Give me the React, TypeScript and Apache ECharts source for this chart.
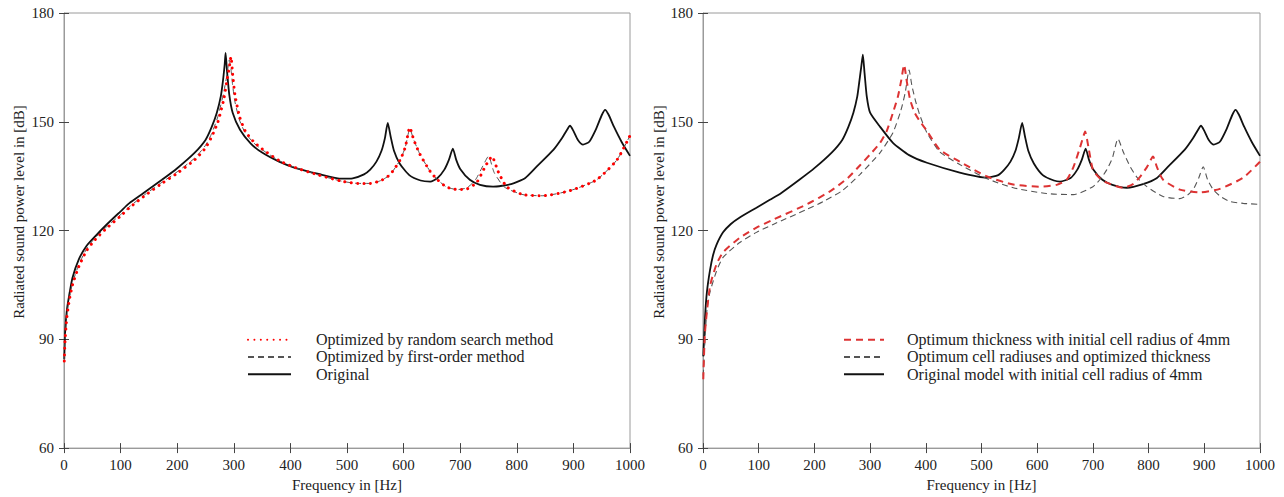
import React, { useEffect, useRef } from "react";
import * as echarts from "echarts";

// ---------- Data ----------
const xTicks = [0, 100, 200, 300, 400, 500, 600, 700, 800, 900, 1000];
const yTicks = [60, 90, 120, 150, 180];

// Left panel
const leftOrigF = [0.5, 2, 5, 9, 15, 26, 40, 55, 75, 100, 115, 140, 173, 200, 231, 250, 261, 270, 277, 281, 284, 285.5, 288, 292, 298, 311, 330, 350, 380, 408, 450, 491, 510, 530, 541, 552, 561, 567, 572, 577, 583, 593, 610, 630, 647, 660, 672, 680, 687, 693, 700, 717, 735, 758, 790, 815, 835, 865, 880, 888, 894, 900, 908, 917, 928, 940, 950, 956, 962, 972, 985, 1000];
const leftOrigV = [84.5, 92, 98, 102, 107, 112, 115.8, 118.4, 121.6, 125.3, 127.5, 130.3, 134, 137.2, 141.5, 145, 148.6, 152.5, 157, 161.5, 166, 169, 164, 157.5, 152.5, 147.8, 144, 141.5, 139, 137.3, 135.6, 134.3, 134.4, 135.5, 136.8, 139, 142, 145.5, 149.7, 146, 142, 138.5, 135.3, 133.8, 133.5, 134.5, 136.8, 139.5, 142.6, 139.5, 137, 134, 132.6, 132.1, 132.8, 134.5, 137.6, 142.3, 145.5, 147.6, 148.9, 147.5, 145, 143.7, 144.5, 148, 151.8, 153.3, 152, 148.5, 144.5, 140.6];

const leftRandomF = [0.5, 2, 5, 9, 15, 26, 40, 55, 75, 100, 115, 140, 173, 200, 231, 250, 261, 272, 282, 288, 292, 295, 298, 302, 310, 320, 335, 350, 380, 408, 450, 491, 520, 541, 560, 576, 594, 603, 611, 618, 629, 647, 660, 676, 695, 712, 729, 744, 756, 767, 782, 811, 846, 894, 941, 977, 1000];
const leftRandomV = [84, 90, 96, 100.5, 105, 110, 114.5, 117.5, 120.6, 124, 126.2, 129.3, 133, 135.8, 139.5, 142.8, 145.9, 150, 156, 161.5, 165, 167.9, 163, 157.5, 151.5, 147.5, 144.5, 142.5, 139.3, 137.4, 135.3, 133.6, 133, 133, 133.8, 135.4, 139.5, 143, 148.4, 145, 141, 136.3, 134, 132, 131.3, 131.5, 133.2, 137.6, 140.4, 136.3, 132.1, 129.9, 129.6, 131, 134, 139.5, 146.2];

const leftFirstF = [0.5, 2, 5, 9, 15, 26, 40, 55, 75, 100, 115, 140, 173, 200, 231, 250, 261, 272, 282, 288, 292, 295, 298, 302, 310, 320, 335, 350, 380, 408, 450, 491, 520, 541, 560, 576, 594, 603, 611, 618, 629, 647, 660, 676, 695, 712, 727, 740, 750, 760, 778, 811, 846, 894, 941, 977, 1000];
const leftFirstV = [84.5, 90.5, 96.5, 101, 105.5, 110.5, 115, 118, 121, 124.4, 126.5, 129.6, 133.3, 136.2, 140, 143.5, 146.8, 151.5, 158, 163, 167, 164.5, 160, 155.5, 150.5, 147, 144.2, 142.3, 139.3, 137.4, 135.3, 133.6, 133, 133, 133.8, 135.4, 139.5, 143, 148, 145, 141, 136.3, 134, 132, 131.3, 131.8, 134, 137.8, 140.5, 136, 132, 129.9, 129.6, 131, 134, 139.5, 146.2];

// Right panel
const rightOrigF = [0.5, 3.6, 7, 12.5, 18, 24, 36, 50, 66, 96, 120, 140, 173, 200, 231, 250, 261, 270, 277, 281, 284, 287, 290, 294, 300, 318, 341, 370, 402, 461, 510, 530, 541, 552, 561, 567, 573, 578, 584, 594, 610, 630, 641, 660, 672, 680, 687, 693, 700, 717, 735, 761, 790, 815, 835, 865, 880, 888, 894, 900, 908, 917, 928, 940, 950, 956, 962, 972, 985, 1000];
const rightOrigV = [85.3, 96, 103, 109, 113.2, 116, 119.5, 121.8, 123.6, 126.3, 128.5, 130.3, 134, 137.2, 141.5, 145, 148.6, 152.5, 157, 161.5, 165, 168.5, 163.5, 157, 152.5, 148.6, 144.2, 140.8, 138.7, 136, 134.6, 135.3, 136.8, 139, 142, 145.5, 149.7, 146, 142, 138.5, 135.3, 133.8, 133.5, 134.5, 136.8, 139.5, 142.6, 139.5, 137, 134, 132.6, 131.8, 132.8, 134.5, 137.6, 142.3, 145.5, 147.6, 148.9, 147.5, 145, 143.7, 144.5, 148, 151.8, 153.3, 152, 148.5, 144.5, 140.6];

const rightThickF = [0.5, 3.6, 12.5, 24, 36, 66, 96, 126, 186, 230, 260, 282, 300, 318, 330, 341, 350, 356, 361, 366, 372, 380, 390, 402, 425, 461, 510, 557, 605, 635, 653, 665, 675, 681, 686, 692, 700, 712, 725, 754, 772, 785, 797, 808, 815, 826, 856, 892, 928, 970, 1000];
const rightThickV = [79, 92, 104.6, 110.6, 114, 118, 120.8, 123, 127.2, 131, 134.5, 138, 141, 144.2, 147.5, 152.5, 157, 161.5, 165.7, 161, 156, 152.5, 150, 147.5, 142.3, 139, 134.9, 132.7, 132.1, 132.6, 134, 137.5, 142, 145, 147.3, 143, 136.8, 134.5, 133.2, 131.8, 132.8, 134.9, 137.5, 140.4, 137.5, 134, 131.3, 130.5, 131.5, 134.6, 139];

const rightRadiiF = [0.5, 3.6, 7, 12.5, 24, 36, 66, 96, 126, 186, 216, 250, 282, 318, 341, 355, 363, 370, 375, 382, 390, 402, 425, 461, 510, 557, 617, 665, 700, 715, 725, 735, 745, 755, 767, 780, 797, 826, 856, 870, 880, 890, 898, 906, 916, 930, 946, 970, 1000];
const rightRadiiV = [80, 90, 98, 103, 108.7, 112.6, 116.7, 119.5, 121.7, 125.8, 128, 131, 135.5, 141.5, 147, 153, 158, 164.3, 160, 155.5, 151.5, 147, 141.7, 138.2, 134.3, 131.8, 130.2, 129.9, 132.1, 134.5, 136.8, 140, 145.3, 141.5, 137.6, 134.5, 132.1, 129.4, 128.8, 129.8, 131.3, 134.5, 137.6, 134, 131.3, 129.3, 128, 127.5, 127.2];

const leftNames = ["Optimized by random search method", "Optimized by first-order method", "Original"];
const rightNames = [
  "Optimum thickness with initial cell radius of 4mm",
  "Optimum cell radiuses and optimized thickness",
  "Original model with initial cell radius of 4mm",
];
const xName = "Frequency in [Hz]";
const yName = "Radiated sound power level in [dB]";

const zip = (f: number[], v: number[]) => f.map((x, i) => [x, v[i]]);

const FONT = "'Liberation Serif', 'DejaVu Serif', serif";

export default function App() {
  const ref = useRef<HTMLDivElement>(null);

  useEffect(() => {
    if (!ref.current) return;
    const chart = echarts.init(ref.current, null, { renderer: "svg" });

    const grids = [
      { left: 64, top: 13, width: 566, height: 436, show: true, borderColor: "#9a9a9a", borderWidth: 1 },
      { left: 703, top: 13, width: 557, height: 436, show: true, borderColor: "#9a9a9a", borderWidth: 1 },
    ];

    const mainX = (gi: number) => ({
      type: "value",
      gridIndex: gi,
      min: xTicks[0],
      max: xTicks[xTicks.length - 1],
      interval: 100,
      name: xName,
      nameLocation: "middle",
      nameGap: 27,
      nameTextStyle: { fontFamily: FONT, fontSize: 15, color: "#222" },
      axisLine: { show: true, lineStyle: { color: "#9a9a9a", width: 1 } },
      axisTick: { show: true, length: 5, lineStyle: { color: "#444", width: 1 } },
      axisLabel: { fontFamily: FONT, fontSize: 15, color: "#222", margin: 9, formatter: (v: number) => String(v) },
      splitLine: { show: false },
    });
    const innerX = (gi: number) => ({
      type: "value",
      gridIndex: gi,
      position: "bottom",
      min: xTicks[0],
      max: xTicks[xTicks.length - 1],
      interval: 100,
      axisLine: { show: false },
      axisTick: { show: true, inside: true, length: 5, lineStyle: { color: "#444", width: 1 } },
      axisLabel: { show: false },
      splitLine: { show: false },
    });
    const mainY = (gi: number) => ({
      type: "value",
      gridIndex: gi,
      min: yTicks[0],
      max: yTicks[yTicks.length - 1],
      interval: 30,
      axisLine: { show: true, lineStyle: { color: "#9a9a9a", width: 1 } },
      axisTick: { show: true, length: 5, lineStyle: { color: "#444", width: 1 } },
      axisLabel: { fontFamily: FONT, fontSize: 15, color: "#222", margin: 10 },
      splitLine: { show: false },
    });
    const innerY = (gi: number) => ({
      type: "value",
      gridIndex: gi,
      position: "left",
      min: yTicks[0],
      max: yTicks[yTicks.length - 1],
      interval: 30,
      axisLine: { show: false },
      axisTick: { show: true, inside: true, length: 5, lineStyle: { color: "#444", width: 1 } },
      axisLabel: { show: false },
      splitLine: { show: false },
    });

    const line = (name: string, gi: number, data: number[][], lineStyle: any, z: number) => ({
      type: "line",
      name,
      xAxisIndex: gi,
      yAxisIndex: gi,
      data,
      symbol: "none",
      showSymbol: false,
      smooth: 0.2,
      z,
      lineStyle,
      itemStyle: { color: lineStyle.color },
    });

    const legendBase = {
      orient: "vertical",
      padding: 0,
      itemWidth: 43,
      itemHeight: 10,
      itemGap: 0,
      itemStyle: { opacity: 0 },
      textStyle: { fontFamily: FONT, fontSize: 16, lineHeight: 17.3, color: "#222", padding: [0, 0, 0, 20] },
    };

    const yNameText = (x: number) => ({
      type: "text",
      x,
      y: 212,
      rotation: Math.PI / 2,
      style: {
        text: yName,
        fontFamily: FONT,
        fontSize: 15,
        fill: "#222",
        align: "center",
        verticalAlign: "middle",
      },
    });

    chart.setOption({
      animation: false,
      backgroundColor: "#fff",
      grid: grids,
      xAxis: [mainX(0), mainX(1), innerX(0), innerX(1)],
      yAxis: [mainY(0), mainY(1), innerY(0), innerY(1)],
      legend: [
        { ...legendBase, data: leftNames, left: 247, top: 331 },
        { ...legendBase, itemWidth: 40, data: rightNames, left: 843, top: 331, textStyle: { ...legendBase.textStyle, padding: [0, 0, 0, 18] } },
      ],
      graphic: [yNameText(19), yNameText(659)],
      series: [
        line(leftNames[2], 0, zip(leftOrigF, leftOrigV), { color: "#111", width: 1.8, type: "solid" }, 3),
        line(leftNames[1], 0, zip(leftFirstF, leftFirstV), { color: "#555", width: 1, type: [6, 4] }, 4),
        line(leftNames[0], 0, zip(leftRandomF, leftRandomV), { color: "#ff0000", width: 3, type: [0.01, 6.4], cap: "round" }, 5),
        line(rightNames[2], 1, zip(rightOrigF, rightOrigV), { color: "#111", width: 1.8, type: "solid" }, 3),
        line(rightNames[1], 1, zip(rightRadiiF, rightRadiiV), { color: "#555", width: 1.1, type: [6, 4] }, 4),
        line(rightNames[0], 1, zip(rightThickF, rightThickV), { color: "#dd3333", width: 2, type: [7, 5] }, 5),
      ],
    });

    return () => chart.dispose();
  }, []);

  return (
    <div
      ref={ref}
      style={{ position: "fixed", left: 0, top: 0, width: 1284, height: 497, background: "#fff" }}
    />
  );
}
